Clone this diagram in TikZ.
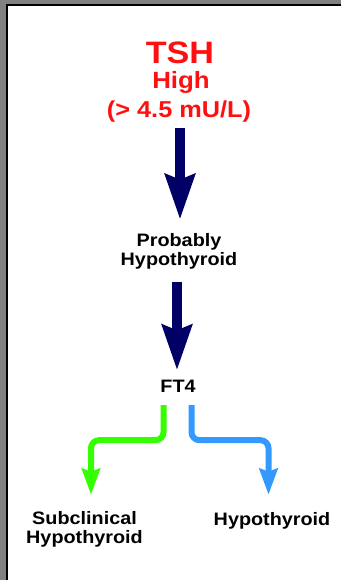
\documentclass[tikz,border=0pt]{standalone}
\usepackage{fontspec}
\newfontfamily\lab{Liberation Sans Bold}[FakeStretch=1.1]
\usetikzlibrary{arrows.meta,calc}
\definecolor{tshred}{HTML}{FF1010}
\definecolor{navyar}{HTML}{000066}
\definecolor{grnar}{HTML}{33FF00}
\definecolor{bluar}{HTML}{3399FF}
\definecolor{frgray}{HTML}{808080}
\tikzset{
  txt/.style={inner sep=0pt, anchor=base, font=\lab\fontsize{18}{19}\selectfont, align=center},
  redtxt/.style={inner sep=0pt, anchor=base, text=tshred},
  navyarrow/.style={draw=navyar, line width=10pt, -{Stealth[width=29pt,length=45pt,inset=5pt]}},
  bentarrow/.style={line width=6pt, rounded corners=8pt, -{Stealth[width=18pt,length=26pt,inset=3pt]}},
}
\begin{document}
\begin{tikzpicture}[x=1pt,y=-1pt]
\useasboundingbox (0,0) rectangle (341,580);
\fill[white] (0,0) rectangle (341,580);
\fill[frgray] (0,0) rectangle (341,4);
\fill[frgray] (0,0) rectangle (5.5,580);
\fill[black] (5.5,4) rectangle (341,6.5);
\fill[black] (5.5,4) rectangle (8,580);
% red block
\node[redtxt, font=\lab\fontsize{31}{31}\selectfont] (tsh) at (180,64) {TSH};
\node[redtxt, font=\lab\fontsize{23.5}{24}\selectfont] (high) at (181,89) {High};
\node[redtxt, font=\lab\fontsize{23}{23}\selectfont] (range) at (179,118) {(> 4.5 mU/L)};
% black labels
\node[txt] (prob) at (179,265) {Probably\\Hypothyroid};
\node[txt] (ft4) at (178,392) {FT4};
\node[txt] (sub) at (84.5,543) {Subclinical\\Hypothyroid};
\node[txt] (hyp) at (272,525) {Hypothyroid};
% navy arrows
\draw[navyarrow] ($(range.south)+(1,5)$) -- ($(range.south |- prob.north)+(1,-13)$);
\draw[navyarrow] ($(ft4.north |- prob.south)+(-1,13)$) -- ($(ft4.north)+(-1,-9)$);
% bent arrows
\draw[bentarrow, draw=grnar] ($(ft4.south)+(-14.5,13)$) -- ++(0,35) -| ($(sub.north)+(6.5,-16)$);
\draw[bentarrow, draw=bluar] ($(ft4.south)+(13.5,13)$) -- ++(0,35) -| ($(hyp.north)+(-3.5,-17)$);
\end{tikzpicture}
\end{document}
